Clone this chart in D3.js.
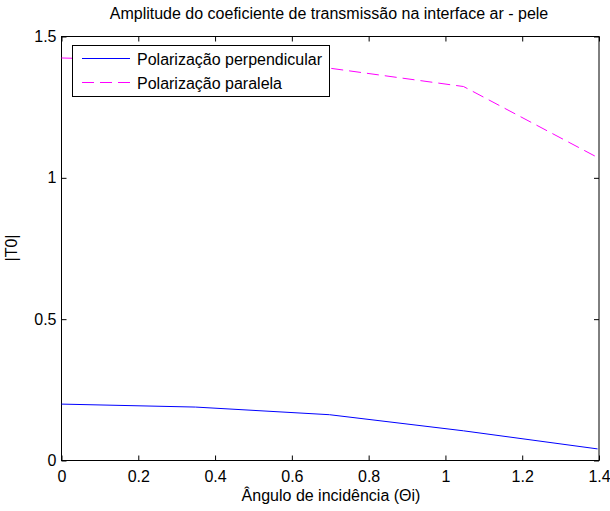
<!DOCTYPE html>
<html><head><meta charset="utf-8">
<script src="https://cdn.jsdelivr.net/npm/d3@7"></script>
<style>body{margin:0;background:#fff}text{font-family:"Liberation Sans",Arial,sans-serif;}</style>
</head><body>
<svg id="c" width="610" height="511"></svg>
<script>
const thetas = [0, 0.3491, 0.6981, 1.0472, 1.3963];
const perpValues = [0.1995, 0.189, 0.162, 0.105, 0.041];
const paraValues = [1.424, 1.412, 1.388, 1.323, 1.072];
const xTicks = [0, 0.2, 0.4, 0.6, 0.8, 1, 1.2, 1.4];
const yTicks = [0, 0.5, 1, 1.5];
const titleText = "Amplitude do coeficiente de transmissão na interface ar - pele";
const xLabel = "Ângulo de incidência (Θi)";
const yLabel = "|T0|";
const seriesNames = ["Polarização perpendicular", "Polarização paralela"];

const svg = d3.select("#c");
const L = 61.5, R = 599, T = 36.5, B = 460.5;
const x = d3.scaleLinear().domain([0, 1.4]).range([L, R]);
const y = d3.scaleLinear().domain([0, 1.5]).range([B, T]);
const fs = 16;

const g = svg.append("g");
g.append("g").attr("transform", `translate(0,${B})`)
  .call(d3.axisBottom(x).tickValues(xTicks).tickSize(-5).tickPadding(10).tickFormat(d3.format("")))
  .call(s => { s.select(".domain").remove(); s.selectAll("text").attr("font-size", fs).attr("fill", "#000").attr("font-family", "Liberation Sans, Arial, sans-serif"); });
g.append("g").attr("transform", `translate(0,${T})`)
  .call(d3.axisTop(x).tickValues(xTicks).tickSize(-5).tickFormat(""))
  .call(s => s.select(".domain").remove());
g.append("g").attr("transform", `translate(${L},0)`)
  .call(d3.axisLeft(y).tickValues(yTicks).tickSize(-5).tickPadding(5).tickFormat(d3.format("")))
  .call(s => { s.select(".domain").remove(); s.selectAll("text").attr("font-size", fs).attr("fill", "#000").attr("font-family", "Liberation Sans, Arial, sans-serif"); });
g.append("g").attr("transform", `translate(${R},0)`)
  .call(d3.axisRight(y).tickValues(yTicks).tickSize(-5).tickFormat(""))
  .call(s => s.select(".domain").remove());
g.selectAll(".tick line").attr("stroke", "#000");
svg.append("rect").attr("x", L).attr("y", T).attr("width", R - L).attr("height", B - T)
  .attr("fill", "none").attr("stroke", "#000").attr("stroke-width", 1);

const line = d3.line().x((d, i) => x(thetas[i])).y(d => y(d));
svg.append("path").datum(perpValues).attr("d", line).attr("fill", "none").attr("stroke", "#0000ff").attr("stroke-width", 1);
svg.append("path").datum(paraValues).attr("d", line).attr("fill", "none").attr("stroke", "#ff00ff").attr("stroke-width", 1).attr("stroke-dasharray", "12,6");

svg.append("text").attr("x", 329).attr("y", 19).attr("text-anchor", "middle").attr("font-size", fs).text(titleText);
svg.append("text").attr("x", 331).attr("y", 501).attr("text-anchor", "middle").attr("font-size", fs).text(xLabel);
svg.append("text").attr("transform", "translate(17,248) rotate(-90)").attr("text-anchor", "middle").attr("font-size", fs).text(yLabel);

const lg = svg.append("g");
lg.append("rect").attr("x", 72.5).attr("y", 45.5).attr("width", 257).attr("height", 51).attr("fill", "#fff").attr("stroke", "#000");
const colors = ["#0000ff", "#ff00ff"], dashes = [null, "12,6"];
seriesNames.forEach((n, i) => {
  const yy = 58.5 + i * 24;
  lg.append("line").attr("x1", 82).attr("x2", 130).attr("y1", yy).attr("y2", yy).attr("stroke", colors[i]).attr("stroke-dasharray", dashes[i]);
  lg.append("text").attr("x", 137).attr("y", yy + 6).attr("font-size", fs).text(n);
});
</script>
</body></html>
